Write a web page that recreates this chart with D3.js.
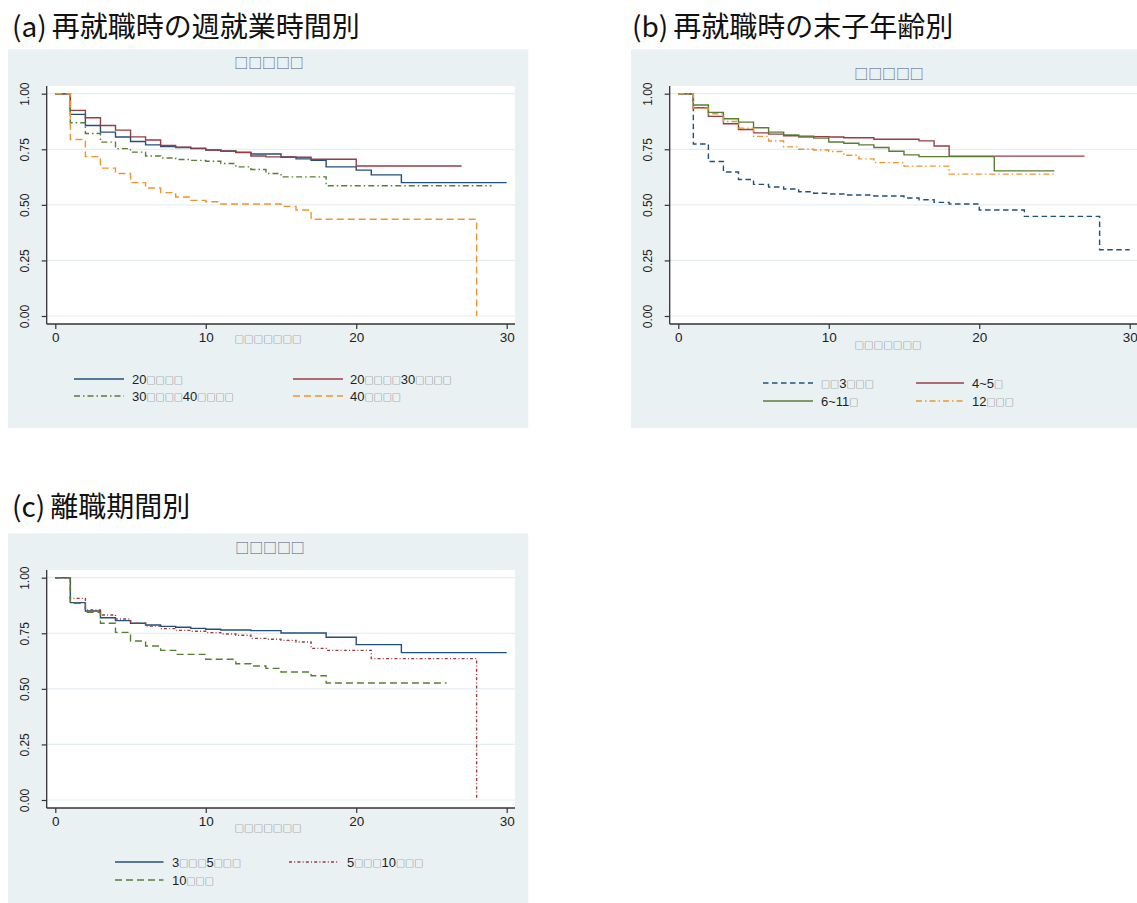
<!DOCTYPE html>
<html>
<head>
<meta charset="utf-8">
<script src="https://cdn.jsdelivr.net/npm/d3@7"></script>
<style>
  body { margin: 0; background: #ffffff; }
  svg { display: block; }
</style>
</head>
<body>
<svg id="chart" width="1137" height="903"></svg>
<script>
// Kaplan–Meier survival estimates as step points: [years, survival]
// (a) by weekly working hours at re-employment
const hrsUnder20 = [[0,1],[1,.907],[2,.857],[3,.827],[4,.805],[5,.785],[6,.770],[7,.762],[8,.758],[9,.753],[10,.747],[11,.743],[12,.737],[13,.729],[15,.716],[16,.707],[17,.700],[18,.671],[20,.656],[21,.635],[23,.600],[30,.600]];
const hrs20to30  = [[0,1],[1,.925],[2,.892],[3,.857],[4,.836],[5,.806],[6,.792],[7,.767],[8,.759],[9,.755],[10,.746],[11,.741],[12,.735],[13,.720],[14,.716],[15,.714],[17,.705],[20,.675],[27,.675]];
const hrs30to40  = [[0,1],[1,.869],[2,.821],[3,.782],[4,.753],[5,.737],[6,.720],[7,.711],[8,.704],[9,.700],[10,.696],[11,.686],[12,.671],[13,.659],[14,.641],[15,.626],[18,.586],[29,.586]];
const hrs40plus  = [[0,1],[1,.794],[2,.717],[3,.665],[4,.641],[5,.600],[6,.576],[7,.555],[8,.535],[9,.520],[10,.514],[11,.504],[15,.493],[16,.477],[17,.435],[28,0]];

// (b) by age of youngest child at re-employment
const childUnder3 = [[0,1],[1,.774],[2,.695],[3,.648],[4,.614],[5,.592],[6,.580],[7,.571],[8,.559],[9,.552],[10,.549],[11,.544],[13,.540],[15,.531],[16,.523],[17,.511],[18,.504],[20,.477],[23,.448],[28,.298],[30,.298]];
const child4to5   = [[0,1],[1,.937],[2,.898],[3,.865],[4,.839],[5,.824],[6,.818],[7,.811],[8,.809],[9,.807],[10,.805],[11,.802],[13,.795],[16,.788],[17,.765],[18,.719],[27,.719]];
const child6to11  = [[0,1],[1,.949],[2,.916],[3,.887],[4,.872],[5,.847],[6,.827],[7,.815],[8,.805],[9,.800],[10,.783],[11,.777],[12,.770],[13,.758],[14,.741],[15,.725],[16,.717],[21,.653],[25,.653]];
const child12plus = [[0,1],[1,.935],[2,.910],[3,.875],[4,.845],[5,.808],[6,.787],[7,.761],[8,.750],[9,.747],[10,.740],[11,.723],[12,.707],[13,.690],[15,.674],[18,.638],[25,.638]];

// (c) by length of time out of work
const leave3to5  = [[0,1],[1,.888],[2,.850],[3,.820],[4,.807],[5,.795],[6,.787],[7,.781],[8,.777],[9,.772],[10,.768],[11,.765],[13,.762],[15,.751],[18,.732],[20,.699],[23,.663],[30,.663]];
const leave5to10 = [[0,1],[1,.907],[2,.855],[3,.832],[4,.814],[5,.795],[6,.783],[7,.771],[8,.763],[9,.759],[10,.753],[11,.747],[12,.741],[13,.727],[14,.723],[15,.718],[16,.711],[17,.682],[18,.673],[21,.636],[28,0]];
const leave10plus = [[0,1],[1,.885],[2,.844],[3,.795],[4,.754],[5,.715],[6,.693],[7,.673],[8,.655],[10,.633],[12,.613],[13,.603],[14,.592],[15,.576],[17,.559],[18,.526],[26,.526]];

// Tick labels and texts
const yTicks = [0, 0.25, 0.5, 0.75, 1];
const yTickLabels = ["0.00", "0.25", "0.50", "0.75", "1.00"];
const xTicks = [0, 10, 20, 30];
const xTickLabels = ["0", "10", "20", "30"];
const panelMarks = ["(a)", "(b)", "(c)"];
const panelTitles = ["再就職時の週就業時間別", "再就職時の末子年齢別", "離職期間別"];
const plotSubtitle = "□□□□□";
const xAxisTitle = "□□□□□□□";
const legendA = ["20□□□□", "20□□□□30□□□□", "30□□□□40□□□□", "40□□□□"];
const legendB = ["□□3□□□", "4~5□", "6~11□", "12□□□"];
const legendC = ["3□□□5□□□", "5□□□10□□□", "10□□□"];

const C = {
  navy: "#22507c", maroon: "#983d44", green: "#5a7d34", orange: "#ec9530",
  bg: "#eaf1f3", grid: "#e4edf0", axis: "#333333", ink: "#1e1e1e"
};
const DASH = {
  solid: null, dash: "7,4", shortDash: "5.5,3.5", dashDot: "6,3,1.5,3", dotDash: "3,2.2,1,2.2"
};
const SANS = "Liberation Sans, Arial, sans-serif";
const BOXFONT = "Noto Sans CJK JP";   // full-width squares: advance equals font size

const svg = d3.select("#chart");
const lineGen = (x, y) => d3.line().x(d => x(d[0])).y(d => y(d[1])).curve(d3.curveStepAfter);

// A run of missing-glyph boxes
function boxRun(g, str, x, y, o) {
  return g.append("text").attr("x", x).attr("y", y)
    .attr("text-anchor", o.anchor || "start")
    .attr("font-family", BOXFONT).attr("font-size", o.boxSize)
    .attr("fill", o.boxColor)
    .text(str);
}

// One label: ordinary characters plus runs of boxes as tspans of a single text
function richLabel(g, str, x, y, o) {
  const t = g.append("text").attr("x", x).attr("y", y);
  str.split(/(□+)/).filter(s => s.length).forEach(part => {
    const box = part[0] === "□";
    t.append("tspan").text(part)
      .attr("font-family", box ? BOXFONT : SANS)
      .attr("font-size", box ? o.boxSize : o.size)
      .attr("fill", box ? o.boxColor : o.color);
  });
  return t;
}

function drawPanel(cfg) {
  const g = svg.append("g").attr("transform", `translate(${cfg.ox},${cfg.oy})`);

  // outer region and plot region
  g.append("rect").attr("x", 8).attr("y", 49.3).attr("width", 520.3).attr("height", 378.7).attr("fill", C.bg);
  g.append("rect").attr("x", 46.7).attr("y", 86).attr("width", 468.3).attr("height", 238).attr("fill", "#ffffff");

  const x = d3.scaleLinear().domain([0, 30]).range([55.3, 506.7]);
  const y = d3.scaleLinear().domain([0, 1]).range([316, 93.7]);

  // gridlines
  g.append("g").selectAll("line").data(yTicks).join("line")
    .attr("x1", 46.7).attr("x2", 515).attr("y1", d => y(d)).attr("y2", d => y(d))
    .attr("stroke", C.grid).attr("stroke-width", 1.2);

  // y axis
  const yAxis = d3.axisLeft(y).tickValues(yTicks).tickSize(5).tickFormat((d, i) => yTickLabels[i]);
  const ya = g.append("g").attr("transform", "translate(46.7,0)").call(yAxis);
  ya.select(".domain").attr("d", "M0,86V324").attr("stroke", C.axis).attr("stroke-width", 1.3);
  ya.selectAll(".tick line").attr("stroke", C.axis).attr("stroke-width", 1.2);
  ya.selectAll(".tick text")
    .attr("font-family", SANS).attr("font-size", 12).attr("fill", C.ink)
    .attr("x", 0).attr("dy", null).attr("y", 0).attr("text-anchor", "middle")
    .attr("transform", "translate(-13.5,0) rotate(-90) translate(0,-4.3)");

  // x axis
  const xAxis = d3.axisBottom(x).tickValues(xTicks).tickSize(5).tickFormat((d, i) => xTickLabels[i]);
  const xa = g.append("g").attr("transform", "translate(0,324)").call(xAxis);
  xa.select(".domain").attr("d", "M46.7,0H515").attr("stroke", C.axis).attr("stroke-width", 1.3);
  xa.selectAll(".tick line").attr("stroke", C.axis).attr("stroke-width", 1.2);
  xa.selectAll(".tick text")
    .attr("font-family", SANS).attr("font-size", 13.5).attr("fill", C.ink)
    .attr("dy", null).attr("y", 18);

  // survival curves
  const lg = lineGen(x, y);
  cfg.series.forEach(s => {
    g.append("path").attr("d", lg(s.data)).attr("fill", "none")
      .attr("stroke", s.color).attr("stroke-width", 1.4)
      .attr("stroke-dasharray", DASH[s.dash]);
  });

  // panel heading
  const head = svg.append("text").attr("x", cfg.titleX).attr("y", cfg.titleY)
    .attr("font-family", "Noto Sans CJK JP").attr("font-size", 28).attr("fill", "#111");
  head.append("tspan").text(cfg.mark);
  head.append("tspan").attr("dx", 5).text(cfg.title);

  // plot subtitle and x-axis title
  boxRun(g, plotSubtitle, cfg.subX, cfg.subY + 5.3, { anchor: "middle", boxSize: 13.9, boxColor: "#4d5f80" });
  boxRun(g, xAxisTitle, cfg.axX, cfg.axY + 3.6, { anchor: "middle", boxSize: 9.6, boxColor: "#6a6a6a" });

  // legend
  cfg.series.forEach((s, i) => {
    const col = cfg.legCols[i % 2], rowY = cfg.legY[Math.floor(i / 2)];
    g.append("line").attr("x1", col[0]).attr("x2", col[1]).attr("y1", rowY).attr("y2", rowY)
      .attr("stroke", s.color).attr("stroke-width", 1.4).attr("stroke-dasharray", DASH[s.dash]);
    richLabel(g, cfg.labels[i], col[2], rowY + 4.6,
      { size: 13, color: C.ink, boxSize: 9.1, boxColor: "#5e5e5e" });
  });
}

drawPanel({
  ox: 0, oy: 0, mark: panelMarks[0], title: panelTitles[0], titleX: 12, titleY: 37,
  subX: 269, subY: 63, axX: 268, axY: 339,
  legY: [379, 396], legCols: [[74, 124, 132], [293, 343, 350]],
  labels: legendA,
  series: [
    { data: hrsUnder20, color: C.navy, dash: "solid" },
    { data: hrs20to30, color: C.maroon, dash: "solid" },
    { data: hrs30to40, color: C.green, dash: "dashDot" },
    { data: hrs40plus, color: C.orange, dash: "dash" }
  ]
});

drawPanel({
  ox: 623, oy: 0, mark: panelMarks[1], title: panelTitles[1], titleX: 632, titleY: 37,
  subX: 266, subY: 74, axX: 265, axY: 345,
  legY: [383, 401], legCols: [[140, 190, 198], [293, 341, 349]],
  labels: legendB,
  series: [
    { data: childUnder3, color: C.navy, dash: "shortDash" },
    { data: child4to5, color: C.maroon, dash: "solid" },
    { data: child6to11, color: C.green, dash: "solid" },
    { data: child12plus, color: C.orange, dash: "dashDot" }
  ]
});

drawPanel({
  ox: 0, oy: 484, mark: panelMarks[2], title: panelTitles[2], titleX: 12, titleY: 517,
  subX: 270, subY: 63.5, axX: 268, axY: 344.5,
  legY: [378, 396], legCols: [[115, 163.5, 172], [289, 339, 347]],
  labels: legendC,
  series: [
    { data: leave3to5, color: C.navy, dash: "solid" },
    { data: leave5to10, color: C.maroon, dash: "dotDash" },
    { data: leave10plus, color: C.green, dash: "dash" }
  ]
});
</script>
</body>
</html>
